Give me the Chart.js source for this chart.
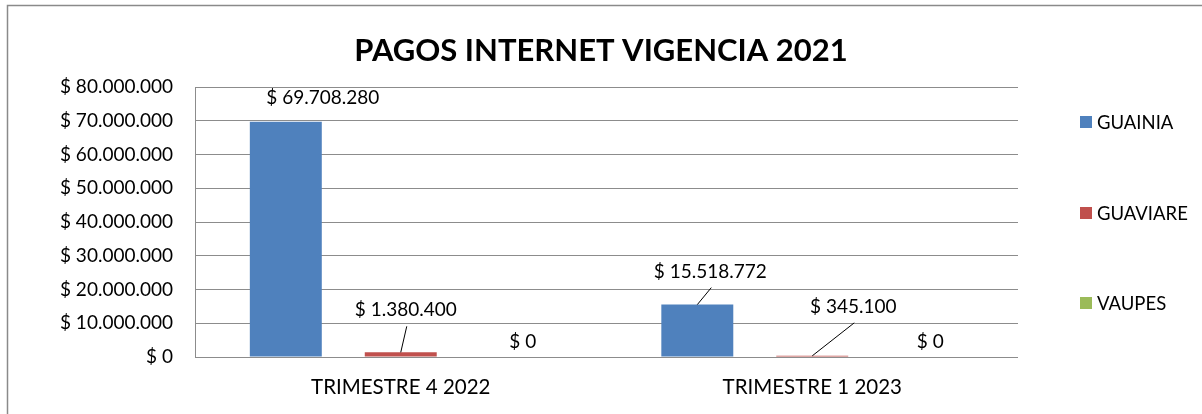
<!DOCTYPE html>
<html>
<head>
<meta charset="utf-8">
<script src="https://cdn.jsdelivr.net/npm/chart.js@4.4.1/dist/chart.umd.min.js"></script>
<style>
  html, body { margin: 0; padding: 0; background: #ffffff; overflow: hidden; }
  #wrap { width: 1202px; height: 414px; position: relative; }
</style>
</head>
<body>
<div id="wrap"><canvas id="c" width="1202" height="414"></canvas></div>
<script>
// ---- data ----
const chartTitle = 'PAGOS INTERNET VIGENCIA 2021';
const categories = ['TRIMESTRE 4 2022', 'TRIMESTRE 1 2023'];
const seriesNames = ['GUAINIA', 'GUAVIARE', 'VAUPES'];
const guainia = [69708280, 15518772];
const guaviare = [1380400, 345100];
const vaupes = [0, 0];
const yTickLabels = ['$ 0', '$ 10.000.000', '$ 20.000.000', '$ 30.000.000', '$ 40.000.000',
                     '$ 50.000.000', '$ 60.000.000', '$ 70.000.000', '$ 80.000.000'];

// ---- styling ----
const colors = ['#4F81BD', '#C0504D', '#9BBB59'];
const FONT = 'Lato';
const gridColor = '#8c8c8c';

function money(v) {
  return '$ ' + String(Math.round(v)).replace(/\B(?=(\d{3})+(?!\d))/g, '.');
}

// label placement (offsets from bar top-center), per dataset, per category
const labelPlace = [
  [{dx: 37, dy: -24, leader: false}, {dx: 13, dy: -33, leader: true}],
  [{dx: 5, dy: -42, leader: true},  {dx: 41, dy: -49, leader: true}],
  [{dx: 7, dy: -15, leader: false}, {dx: 3, dy: -15, leader: false}]
];

const framePlugin = {
  id: 'frame',
  beforeDraw(chart) {
    const ctx = chart.ctx;
    ctx.save();
    ctx.fillStyle = '#ffffff';
    ctx.fillRect(0, 0, chart.width, chart.height);
    ctx.strokeStyle = '#8a8a8a';
    ctx.lineWidth = 1.5;
    ctx.beginPath();
    ctx.moveTo(7.5, chart.height + 2);
    ctx.lineTo(7.5, 5.5);
    ctx.lineTo(chart.width + 2, 5.5);
    ctx.stroke();
    ctx.restore();
  }
};

const decorPlugin = {
  id: 'decor',
  afterDatasetsDraw(chart) {
    const ctx = chart.ctx;
    ctx.save();
    // title
    ctx.fillStyle = '#000000';
    ctx.font = 'bold 31px ' + FONT;
    ctx.textAlign = 'center';
    ctx.textBaseline = 'middle';
    ctx.fillText(chartTitle, 601, 51);

    // data labels
    ctx.font = '19px ' + FONT;
    chart.data.datasets.forEach((ds, di) => {
      const meta = chart.getDatasetMeta(di);
      meta.data.forEach((bar, i) => {
        const p = labelPlace[di][i];
        const lx = bar.x + p.dx;
        const ly = bar.y + p.dy;
        if (p.leader) {
          ctx.strokeStyle = '#000000';
          ctx.lineWidth = 1;
          ctx.beginPath();
          ctx.moveTo(lx + 1, ly + 16);
          ctx.lineTo(bar.x, bar.y);
          ctx.stroke();
        }
        ctx.fillStyle = '#000000';
        ctx.textAlign = 'center';
        ctx.textBaseline = 'middle';
        ctx.fillText(money(ds.data[i]), lx, ly);
      });
    });

    // legend
    const legY = [122, 213, 303];
    ctx.font = '18.5px ' + FONT;
    ctx.textAlign = 'left';
    ctx.textBaseline = 'middle';
    chart.data.datasets.forEach((ds, di) => {
      ctx.fillStyle = ds.backgroundColor;
      ctx.fillRect(1080, legY[di] - 6, 12, 12);
      ctx.fillStyle = '#000000';
      ctx.fillText(ds.label, 1097, legY[di] + 1);
    });
    ctx.restore();
  }
};

new Chart(document.getElementById('c'), {
  type: 'bar',
  data: {
    labels: categories,
    datasets: [
      {label: seriesNames[0], data: guainia, backgroundColor: colors[0]},
      {label: seriesNames[1], data: guaviare, backgroundColor: colors[1]},
      {label: seriesNames[2], data: vaupes, backgroundColor: colors[2]}
    ]
  },
  options: {
    responsive: false,
    animation: false,
    devicePixelRatio: 1,
    layout: {padding: {top: 87, right: 184, bottom: 0, left: 0}},
    datasets: {bar: {categoryPercentage: 0.838, barPercentage: 0.626}},
    plugins: {legend: {display: false}, title: {display: false}, tooltip: {enabled: false}},
    scales: {
      x: {
        grid: {display: false, drawTicks: false},
        border: {display: false},
        ticks: {color: '#000000', font: {family: FONT, size: 20.5}, padding: 18},
        afterFit(scale) { scale.height = 57; }
      },
      y: {
        min: 0, max: 80000000,
        ticks: {
          stepSize: 10000000,
          color: '#000000',
          font: {family: FONT, size: 19},
          padding: 22,
          callback: (v, idx) => yTickLabels[idx]
        },
        grid: {color: gridColor, lineWidth: 1, drawTicks: false},
        border: {display: true, color: gridColor, width: 1},
        afterFit(scale) { scale.width = 195; }
      }
    }
  },
  plugins: [framePlugin, decorPlugin]
});
</script>
</body>
</html>
